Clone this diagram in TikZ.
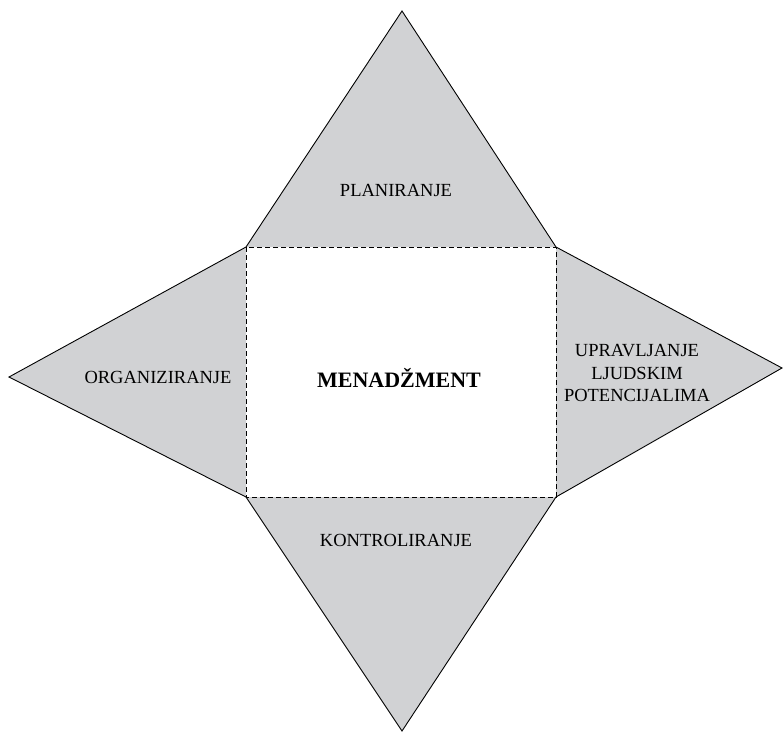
\documentclass[tikz,border=0pt]{standalone}
\usepackage{fontspec}
\setmainfont{Liberation Serif}
\definecolor{petal}{HTML}{D1D2D4}
\begin{document}
\begin{tikzpicture}[x=1pt,y=-1pt,
  petalshape/.style={fill=petal,draw=black,line width=0.9pt,line join=miter},
  centerbox/.style={draw=black,line width=0.9pt,dash pattern=on 5pt off 3pt},
  lbl/.style={font=\fontsize{18.5}{22.5}\selectfont,align=center,inner sep=0pt},
  mainlbl/.style={font=\fontsize{22}{27}\selectfont\bfseries,inner sep=0pt}]
\useasboundingbox (0,0) rectangle (783,733);
\coordinate (tl) at (246,247);
\coordinate (tr) at (556,247);
\coordinate (br) at (556,497);
\coordinate (bl) at (246,497);
\coordinate (top) at (402,11);
\coordinate (bot) at (402,731);
\coordinate (lft) at (9,377);
\coordinate (rgt) at (782,368);
\fill[petal] (tl) -- (top) -- (tr) -- cycle;
\fill[petal] (tr) -- (rgt) -- (br) -- cycle;
\fill[petal] (br) -- (bot) -- (bl) -- cycle;
\fill[petal] (bl) -- (lft) -- (tl) -- cycle;
\draw[line width=0.9pt,line join=miter] (tl) -- (top) -- (tr) -- (rgt) -- (br) -- (bot) -- (bl) -- (lft) -- cycle;
\draw[centerbox] (tl) rectangle (br);
\node[lbl] (plan) at (396,190) {PLANIRANJE};
\node[lbl] (org) at (158,377) {ORGANIZIRANJE};
\node[mainlbl] (men) at (399,378) {MENADŽMENT};
\node[lbl] (upr) at (637,373) {UPRAVLJANJE\\LJUDSKIM\\POTENCIJALIMA};
\node[lbl] (kon) at (396,540) {KONTROLIRANJE};
\end{tikzpicture}
\end{document}
